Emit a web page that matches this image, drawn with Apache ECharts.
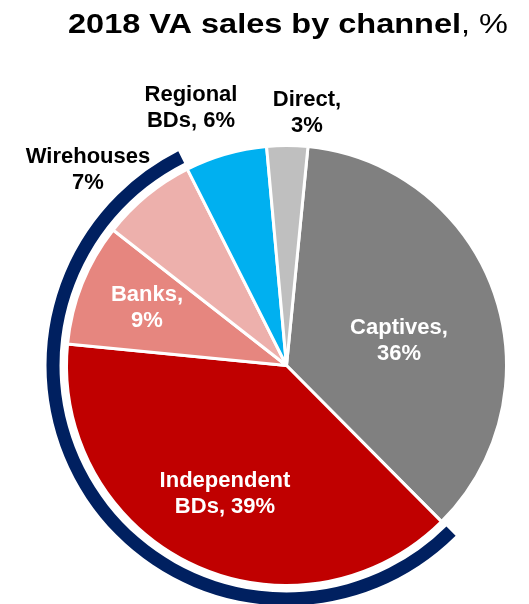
<!DOCTYPE html>
<html>
<head>
<meta charset="utf-8">
<script src="https://cdn.jsdelivr.net/npm/echarts@6/dist/echarts.min.js"></script>
<style>
  html, body { margin: 0; padding: 0; background: #ffffff; }
  #chart { width: 529px; height: 604px; }
</style>
</head>
<body>
<div id="chart"></div>
<script>
// Channel shares of 2018 variable annuity sales, clockwise from the top
const channels = ['Captives', 'Independent BDs', 'Banks', 'Wirehouses', 'Regional BDs', 'Direct'];
const shares = [36, 39, 9, 7, 6, 3];
const labelTexts = ['Captives,\n36%', 'Independent\nBDs, 39%', 'Banks,\n9%', 'Wirehouses\n7%', 'Regional\nBDs, 6%', 'Direct,\n3%'];
// Channels grouped under the outer bracket
const bracketChannels = ['Independent BDs', 'Banks', 'Wirehouses'];

const colors = ['#808080', '#c00000', '#e6867f', '#edb0ac', '#00b0f0', '#bfbfbf'];
const insideLabel = [true, true, true, false, false, false];
// label block centres (px)
const labelPos = [[399, 341], [225, 494], [147, 308], [88, 170], [191, 108], [307, 113]];

const CENTER = [286.5, 365.5];
const START = 84.4;
const FONT = 'Liberation Sans, Arial, sans-serif';

const chart = echarts.init(document.getElementById('chart'), null, { renderer: 'canvas' });

// Bracket ring: leading slice, grouped channels, trailing slices
const idxFirst = channels.indexOf(bracketChannels[0]);
const idxLast = channels.indexOf(bracketChannels[bracketChannels.length - 1]);
const sum = a => a.reduce((s, v) => s + v, 0);
const bracketData = [
  { value: sum(shares.slice(0, idxFirst)), itemStyle: { color: 'rgba(0,0,0,0)' } },
  { value: sum(shares.slice(idxFirst, idxLast + 1)), itemStyle: { color: '#002060' } },
  { value: sum(shares.slice(idxLast + 1)), itemStyle: { color: 'rgba(0,0,0,0)' } }
];

chart.setOption({
  animation: false,
  graphic: [{
    type: 'text',
    x: 68,
    y: 11,
    scaleX: 1.16,
    style: {
      text: '{b|2018 VA sales by channel}{n|, %}',
      fontFamily: FONT,
      fontSize: 28,
      fill: '#000',
      rich: {
        b: { fontWeight: 'bold', fontSize: 28, fontFamily: FONT, fill: '#000' },
        n: { fontWeight: 'normal', fontSize: 28, fontFamily: FONT, fill: '#000' }
      }
    }
  }],
  series: [
    {
      type: 'pie',
      center: CENTER,
      radius: [0, 220],
      startAngle: START,
      clockwise: true,
      silent: true,
      itemStyle: { borderColor: '#ffffff', borderWidth: 3 },
      labelLine: { show: false },
      data: channels.map((name, i) => ({
        name: name,
        value: shares[i],
        itemStyle: { color: colors[i] },
        label: {
          show: true,
          position: insideLabel[i] ? 'inside' : 'outside',
          formatter: labelTexts[i],
          color: insideLabel[i] ? '#ffffff' : '#000000',
          fontFamily: FONT,
          fontWeight: 'bold',
          fontSize: 22,
          lineHeight: 26,
          align: 'center',
          overflow: 'none'
        }
      })),
      labelLayout: function (params) {
        const p = labelPos[params.dataIndex];
        return { x: p[0], y: p[1], align: 'center', verticalAlign: 'middle', width: 200 };
      }
    },
    {
      type: 'pie',
      center: CENTER,
      radius: [227, 240],
      startAngle: START,
      clockwise: true,
      silent: true,
      label: { show: false },
      labelLine: { show: false },
      data: bracketData
    }
  ]
});
</script>
</body>
</html>
